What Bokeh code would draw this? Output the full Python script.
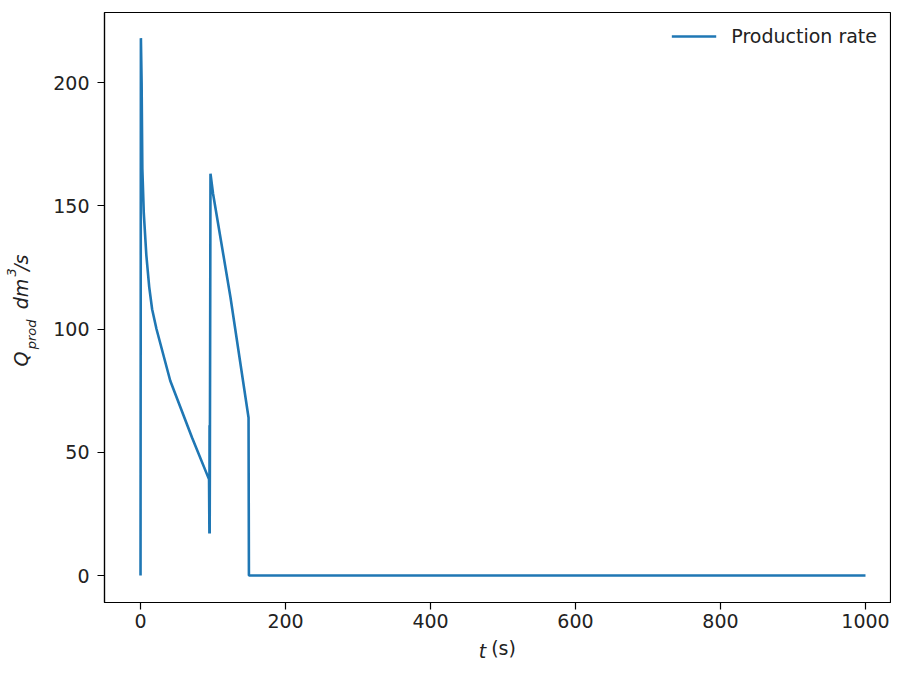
from bokeh.plotting import figure
from bokeh.models import Range1d, FixedTicker, Legend, LegendItem, LinearAxis
from bokeh.embed import file_html
from bokeh.resources import INLINE

# ---- data ----
t_values = [0, 0.5, 1.5, 2.5, 4.5, 8, 12, 16, 22, 41, 71, 94.5, 95, 95.2, 95.4, 95.6, 96.5, 100, 124, 149, 149.5, 1000]
q_values = [0, 218, 200, 165, 147, 130, 117, 108, 100, 79, 56, 39, 17, 61, 17, 39, 163, 155, 113, 64, 0, 0]
x_ticks = [0, 200, 400, 600, 800, 1000]
y_ticks = [0, 50, 100, 150, 200]
series_name = "Production rate"

FONT = "DejaVu Sans"
FS = "19px"
SMALL = "13px"
NB = "\u00a0"

FRAME_L, FRAME_B = 104, 602

p = figure(width=891, height=665, output_backend="svg", toolbar_location=None,
           x_range=Range1d(-49.7, 1034.5), y_range=Range1d(-10.95, 228.4),
           min_border_left=FRAME_L, min_border_right=1, min_border_top=12,
           min_border_bottom=665 - FRAME_B)
p.background_fill_color = "white"
p.border_fill_color = "white"
p.xgrid.visible = False
p.ygrid.visible = False
p.outline_line_color = "black"
p.outline_line_width = 1.2

line = p.line(t_values, q_values, line_color="#1f77b4", line_width=2.6)

for ax, ticks in ((p.xaxis[0], x_ticks), (p.yaxis[0], y_ticks)):
    ax.ticker = FixedTicker(ticks=ticks)
    ax.minor_tick_line_color = None
    ax.major_tick_out = 7
    ax.major_tick_in = 0
    ax.major_tick_line_color = "black"
    ax.major_tick_line_width = 1.2
    ax.axis_line_color = "black"
    ax.axis_line_width = 1.2
    ax.major_label_text_font = FONT
    ax.major_label_text_font_size = FS
    ax.major_label_text_color = "#222222"
    ax.axis_label_text_font = FONT
    ax.axis_label_text_color = "#222222"
p.xaxis.major_label_standoff = 4
p.yaxis.major_label_standoff = 8

# x title: "(s)" upright on the main axis, italic "t" on a label-only axis overlaid
p.xaxis.axis_label = NB * 2 + "(s)"
p.xaxis.axis_label_text_font_style = "normal"
p.xaxis.axis_label_text_font_size = FS
p.xaxis.axis_label_standoff = 6


def label_axis(text, size, standoff, style="italic"):
    ax = LinearAxis(ticker=FixedTicker(ticks=[]), major_tick_out=0, major_tick_in=0,
                    minor_tick_out=0, minor_tick_in=0, axis_line_color=None,
                    major_tick_line_color=None, minor_tick_line_color=None,
                    major_label_text_font_size="0px",
                    axis_label=text, axis_label_standoff=standoff,
                    axis_label_text_font=FONT, axis_label_text_font_size=size,
                    axis_label_text_font_style=style, axis_label_text_color="#222222")
    return ax


p.add_layout(label_axis("t" + NB * 5, FS, -22), "below")

# y title: Q_prod dm^3/s built from three label-only axes
p.add_layout(label_axis("prod" + NB * 13, SMALL, 12), "left")
p.add_layout(label_axis("Q" + NB * 7 + "dm" + NB + "\u200a" + "/s" + NB, FS, -11), "left")
p.add_layout(label_axis(NB * 17 + "3", SMALL, -12), "left")

legend = Legend(items=[LegendItem(label=series_name, renderers=[line])],
                location="top_right", margin=13, padding=6,
                glyph_width=45, label_standoff=15, border_line_color=None,
                background_fill_alpha=0.0,
                label_text_font=FONT, label_text_font_size=FS,
                label_text_color="#222222")
p.add_layout(legend)

open("out.html", "w").write(file_html(p, INLINE))
